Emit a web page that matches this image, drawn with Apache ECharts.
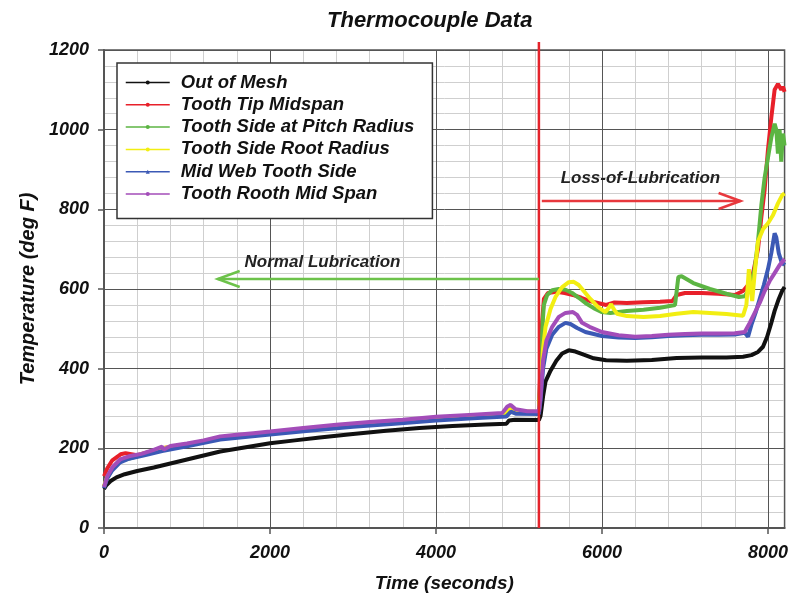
<!DOCTYPE html>
<html>
<head>
<meta charset="utf-8">
<script src="https://cdn.jsdelivr.net/npm/echarts@6/dist/echarts.min.js"></script>
<style>html,body{margin:0;padding:0;background:#fff}#c{width:791px;height:602px}</style>
</head>
<body>
<div id="c"></div>
<script>
const seriesNames = ['Out of Mesh','Tooth Tip Midspan','Tooth Side at Pitch Radius','Tooth Side Root Radius','Mid Web Tooth Side','Tooth Rooth Mid Span'];

const outOfMesh = [[0,98],[30,108],[80,118],[150,127],[250,135],[400,143],[600,152],[800,162],[1000,172],[1200,182],[1400,192],[1600,199],[1800,206],[2000,213],[2300,220],[2600,227],[3000,236],[3400,244],[3800,251],[4200,256],[4600,260],[4850,262],[4880,270],[4950,272],[5240,271],[5260,282],[5290,330],[5320,368],[5380,395],[5450,420],[5520,438],[5600,446],[5680,443],[5780,435],[5900,426],[6050,421],[6300,420],[6600,422],[6900,427],[7200,428],[7500,428],[7700,430],[7800,434],[7880,442],[7940,455],[7990,480],[8040,515],[8080,545],[8130,575],[8170,595],[8200,605]];

const toothTip = [[0,130],[40,150],[100,170],[200,185],[260,188],[400,183],[700,200],[1000,209],[1400,226],[2000,239],[2400,248],[2800,256],[3200,263],[3600,269],[4000,276],[4400,281],[4800,286],[4900,299],[4960,293],[5240,290],[5260,420],[5280,520],[5300,575],[5350,590],[5450,593],[5550,590],[5650,585],[5750,578],[5850,570],[5950,565],[6050,560],[6150,566],[6300,565],[6500,567],[6700,568],[6850,570],[6900,585],[7000,590],[7200,590],[7400,588],[7600,585],[7700,595],[7760,610],[7820,640],[7880,700],[7920,780],[7960,850],[8000,950],[8040,1030],[8080,1100],[8120,1115],[8160,1100],[8180,1108],[8200,1095]];

const pitchRadius = [[0,104],[40,127],[100,148],[194,168],[400,180],[700,198],[1000,208],[1400,225],[2000,238],[2400,247],[2800,255],[3200,262],[3600,268],[4000,275],[4400,280],[4800,285],[4900,298],[4960,292],[5240,289],[5260,400],[5280,500],[5300,560],[5340,585],[5400,597],[5480,600],[5560,598],[5640,590],[5720,578],[5800,565],[5900,552],[6000,542],[6100,540],[6300,545],[6500,548],[6700,553],[6880,560],[6920,630],[6960,632],[7100,615],[7300,600],[7500,588],[7650,580],[7720,582],[7780,600],[7840,650],[7880,720],[7920,810],[7960,880],[8000,930],[8040,980],[8080,1015],[8100,1000],[8120,940],[8140,1000],[8160,920],[8180,990],[8200,960]];

const rootRadius = [[0,105],[40,128],[100,150],[194,170],[400,182],[700,200],[1000,210],[1400,227],[2000,240],[2400,249],[2800,257],[3200,264],[3600,270],[4000,277],[4400,282],[4800,287],[4900,300],[4960,294],[5240,291],[5260,360],[5290,450],[5320,505],[5380,550],[5440,580],[5520,605],[5600,617],[5660,618],[5720,610],[5780,595],[5860,575],[5950,555],[6040,542],[6080,552],[6110,562],[6140,550],[6180,538],[6300,532],[6500,530],[6700,532],[6900,538],[7100,542],[7300,540],[7500,537],[7700,533],[7740,560],[7770,650],[7790,600],[7810,570],[7840,640],[7880,720],[7940,750],[8000,765],[8060,785],[8120,815],[8170,835],[8200,840]];

const midWeb = [[0,100],[40,125],[100,145],[194,165],[300,174],[500,183],[700,193],[1000,205],[1400,222],[2000,235],[2500,245],[3000,254],[3500,262],[4000,270],[4500,276],[4850,280],[4900,292],[4960,287],[5240,286],[5260,320],[5290,400],[5330,450],[5400,485],[5480,505],[5560,515],[5620,512],[5700,502],[5800,492],[6000,482],[6200,478],[6400,477],[6600,479],[6800,482],[7000,484],[7200,485],[7400,485],[7600,486],[7720,490],[7760,480],[7800,510],[7850,540],[7900,575],[7950,610],[8000,650],[8040,690],[8080,740],[8100,730],[8130,690],[8160,670],[8200,660]];

const rootMidSpan = [[0,103],[40,130],[100,152],[194,172],[300,180],[450,186],[600,196],[700,204],[720,197],[800,206],[1000,212],[1200,220],[1400,230],[1600,234],[1800,238],[2000,242],[2400,251],[2800,259],[3200,266],[3600,272],[4000,279],[4400,284],[4800,289],[4860,305],[4900,309],[4960,298],[5100,293],[5240,293],[5260,330],[5290,420],[5330,470],[5400,505],[5480,530],[5560,540],[5650,542],[5700,535],[5760,515],[5850,505],[6000,492],[6200,484],[6400,480],[6600,482],[6800,485],[7000,487],[7200,488],[7400,488],[7600,489],[7720,492],[7780,515],[7840,540],[7900,565],[7960,595],[8020,620],[8080,640],[8140,660],[8200,675]];

// lubrication change marker (time)
const lubeLossTime = [5240];
// annotation arrows: [xStart, yStart, xEnd, yEnd]
const arrowData = [[5240,625,1370,625],[5275,821,7670,821]];
// annotation text anchors: [x, y]
const noteAnchors = [[1694,668],[5502,879]];
const noteTexts = ['Normal Lubrication','Loss-of-Lubrication'];

const xTicks = {min:0, max:8200, major:2000, minor:400};
const yTicks = {min:0, max:1200, major:200};

const colors = ['#111111','#e8202a','#5cb543','#f2ee12','#3b59b5','#a34db9'];
const FONT = '"Liberation Sans", Arial, sans-serif';
const bi = (size) => ({fontFamily:FONT, fontStyle:'italic', fontWeight:'bold', fontSize:size, color:'#111'});

const lineData = [outOfMesh, toothTip, pitchRadius, rootRadius, midWeb, rootMidSpan];
const lineSeries = lineData.map((d,i) => ({
  name: seriesNames[i], type:'line', data:d, showSymbol:false,
  symbol: i===4 ? 'triangle' : 'circle', symbolSize:4,
  lineStyle:{color:colors[i], width:4}, itemStyle:{color:colors[i]},
  z: 3, animation:false
}));

const plain = (v) => String(v);

const chart = echarts.init(document.getElementById('c'), null, {renderer:'canvas'});
chart.setOption({
  animation:false,
  backgroundColor:'#fff',
  title:{text:'Thermocouple Data', left:322, top:5, textStyle:bi(22)},
  grid:{left:104, right:4, top:50, bottom:74, show:true, borderColor:'#555', borderWidth:1.5, backgroundColor:'transparent'},
  legend:{
    orient:'vertical', left:117, top:63, data:seriesNames,
    backgroundColor:'#fff', borderColor:'#333', borderWidth:1.5,
    padding:[10,18,15,8], itemWidth:44, itemHeight:5, itemGap:3.3,
    lineStyle:{width:1.5},
    textStyle:Object.assign(bi(18.5), {lineHeight:16, padding:[0,0,0,6]}),
    z:10
  },
  xAxis:[{
    type:'value', min:xTicks.min, max:xTicks.max, interval:xTicks.major, z:2,
    name:'Time (seconds)', nameLocation:'middle', nameGap:46, nameTextStyle:bi(19),
    axisLine:{show:true, lineStyle:{color:'#555', width:2}},
    axisTick:{show:true, length:6, lineStyle:{color:'#555', width:1.5}},
    axisLabel:Object.assign(bi(18), {margin:16, showMaxLabel:false, formatter:plain}),
    splitLine:{show:true, lineStyle:{color:'#555', width:1}}
  },{
    type:'value', min:xTicks.min, max:xTicks.max, interval:xTicks.minor, z:0,
    axisLine:{show:false}, axisTick:{show:false}, axisLabel:{show:false},
    splitLine:{show:true, lineStyle:{color:'#cfcfcf', width:1}}
  }],
  yAxis:{
    type:'value', min:yTicks.min, max:yTicks.max, interval:yTicks.major, z:1,
    name:'Temperature (deg F)', nameLocation:'middle', nameGap:66, nameTextStyle:bi(20),
    axisLine:{show:true, lineStyle:{color:'#555', width:2}},
    axisTick:{show:true, length:6, lineStyle:{color:'#555', width:1.5}},
    axisLabel:Object.assign(bi(18), {margin:15, formatter:plain}),
    splitLine:{show:true, lineStyle:{color:'#555', width:1}},
    minorTick:{show:false, splitNumber:5},
    minorSplitLine:{show:true, lineStyle:{color:'#cfcfcf', width:1}}
  },
  series: lineSeries.concat([
    {
      type:'custom', name:'lubeLoss', data:lubeLossTime.map(t=>[t]), clip:false, z:5, silent:true,
      renderItem:(params, api) => {
        const p0 = api.coord([api.value(0), yTicks.min]);
        const p1 = api.coord([api.value(0), yTicks.max]);
        return {type:'line', shape:{x1:p0[0], y1:p0[1], x2:p1[0], y2:p1[1]-8}, style:{stroke:'#e4232b', lineWidth:2.5}};
      }
    },
    {
      type:'custom', name:'arrows', data:arrowData, clip:false, z:5, silent:true,
      renderItem:(params, api) => {
        const a = api.coord([api.value(0), api.value(1)]);
        const b = api.coord([api.value(2), api.value(3)]);
        const col = params.dataIndex === 0 ? '#6cc24a' : '#e8383d';
        const dx = b[0]-a[0], dy = b[1]-a[1], L = Math.hypot(dx,dy);
        const ux = dx/L, uy = dy/L, nx = -uy, ny = ux;
        const bx = b[0]-ux*22, by = b[1]-uy*22;
        return {type:'group', children:[
          {type:'line', shape:{x1:a[0], y1:a[1], x2:b[0], y2:b[1]}, style:{stroke:col, lineWidth:2.5}},
          {type:'polyline', shape:{points:[[bx+nx*8, by+ny*8],[b[0],b[1]],[bx-nx*8, by-ny*8]]}, style:{stroke:col, lineWidth:2.5, fill:null}}
        ]};
      }
    },
    {
      type:'custom', name:'notes', data:noteAnchors, clip:false, z:6, silent:true,
      renderItem:(params, api) => {
        const p = api.coord([api.value(0), api.value(1)]);
        return {type:'text', x:p[0], y:p[1], style:{text:noteTexts[params.dataIndex], textAlign:'left', textVerticalAlign:'middle', fill:'#222', font:'italic bold 17px ' + FONT}};
      }
    }
  ])
});
</script>
</body>
</html>
